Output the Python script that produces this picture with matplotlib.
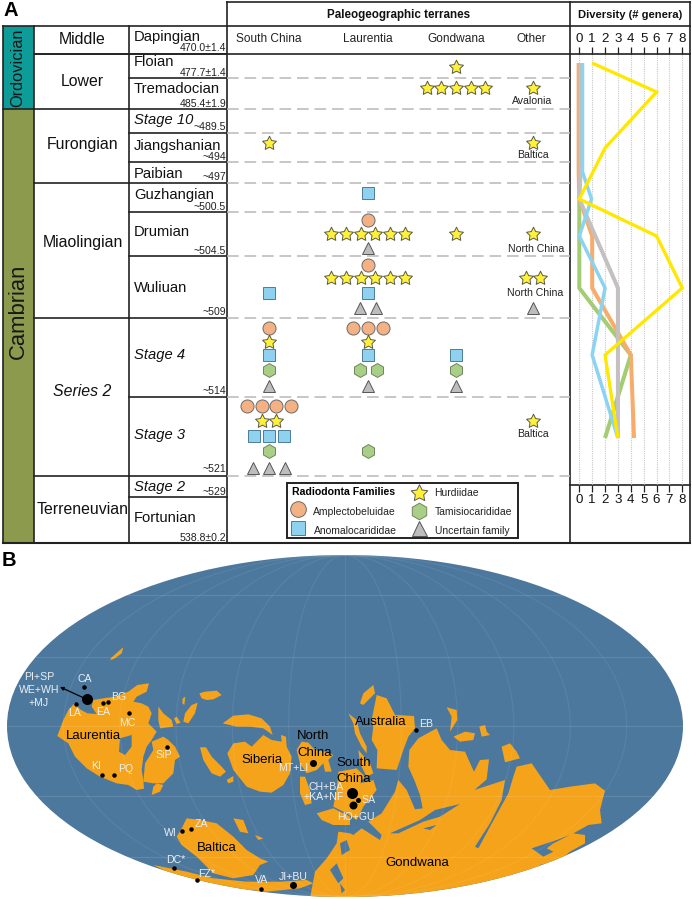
import numpy as np
import matplotlib
matplotlib.use("Agg")
import matplotlib.pyplot as plt
from matplotlib.patches import Ellipse, Polygon, Rectangle
from matplotlib.path import Path

plt.rcParams['font.family'] = ['Liberation Sans', 'DejaVu Sans']

# ---------- DATA ----------
periods = [("Ordovician", 26, 109, "#0E9C98", 11.8), ("Cambrian", 109, 543, "#8C9A4E", 15.8)]
series = [("Middle", 54, 40, False), ("Lower", 109, 81, False), ("Furongian", 183, 144, False),
          ("Miaolingian", 318, 243, False), ("Series 2", 475.5, 391.5, True), ("Terreneuvian", 543, 510, False)]
stages = ["Dapingian", "Floian", "Tremadocian", "Stage 10", "Jiangshanian", "Paibian", "Guzhangian",
          "Drumian", "Wuliuan", "Stage 4", "Stage 3", "Stage 2", "Fortunian"]
italic_stages = {"Stage 10", "Stage 4", "Stage 3", "Stage 2"}
stage_ages = ["470.0±1.4", "477.7±1.4", "485.4±1.9", "~489.5", "~494", "~497", "~500.5",
              "~504.5", "~509", "~514", "~521", "~529", "538.8±0.2"]
stage_bottom = [54, 78, 109, 133, 162, 183, 212, 256, 318, 397, 475.5, 497, 543]
stage_text_y = [37, 62.5, 89, 120, 146, 174, 194.5, 232, 288, 355, 435.5, 486.5, 518]
age_text_y = [48, 73, 104, 126.5, 157, 176.5, 207, 251, 312, 391.5, 469, 492, 538]
dashed_y = [78, 109, 133, 162, 183, 212, 256, 318, 397, 475.5]

terranes = ["South China", "Laurentia", "Gondwana", "Other"]
terrane_x = {"South China": 269, "Laurentia": 368, "Gondwana": 456, "Other": 533}
families = ["Amplectobeluidae", "Anomalocarididae", "Hurdiidae", "Tamisiocarididae", "Uncertain family"]

# (stage, terrane, family, count)
occurrences = [
    ("Floian", "Gondwana", "Hurdiidae", 1),
    ("Tremadocian", "Gondwana", "Hurdiidae", 5),
    ("Tremadocian", "Other", "Hurdiidae", 1),
    ("Jiangshanian", "South China", "Hurdiidae", 1),
    ("Jiangshanian", "Other", "Hurdiidae", 1),
    ("Guzhangian", "Laurentia", "Anomalocarididae", 1),
    ("Drumian", "Laurentia", "Amplectobeluidae", 1),
    ("Drumian", "Laurentia", "Hurdiidae", 6),
    ("Drumian", "Laurentia", "Uncertain family", 1),
    ("Drumian", "Gondwana", "Hurdiidae", 1),
    ("Drumian", "Other", "Hurdiidae", 1),
    ("Wuliuan", "South China", "Anomalocarididae", 1),
    ("Wuliuan", "Laurentia", "Amplectobeluidae", 1),
    ("Wuliuan", "Laurentia", "Hurdiidae", 6),
    ("Wuliuan", "Laurentia", "Anomalocarididae", 1),
    ("Wuliuan", "Laurentia", "Uncertain family", 2),
    ("Wuliuan", "Other", "Hurdiidae", 2),
    ("Wuliuan", "Other", "Uncertain family", 1),
    ("Stage 4", "South China", "Amplectobeluidae", 1),
    ("Stage 4", "South China", "Hurdiidae", 1),
    ("Stage 4", "South China", "Anomalocarididae", 1),
    ("Stage 4", "South China", "Tamisiocarididae", 1),
    ("Stage 4", "South China", "Uncertain family", 1),
    ("Stage 4", "Laurentia", "Amplectobeluidae", 3),
    ("Stage 4", "Laurentia", "Hurdiidae", 1),
    ("Stage 4", "Laurentia", "Anomalocarididae", 1),
    ("Stage 4", "Laurentia", "Tamisiocarididae", 2),
    ("Stage 4", "Laurentia", "Uncertain family", 1),
    ("Stage 4", "Gondwana", "Anomalocarididae", 1),
    ("Stage 4", "Gondwana", "Tamisiocarididae", 1),
    ("Stage 4", "Gondwana", "Uncertain family", 1),
    ("Stage 3", "South China", "Amplectobeluidae", 4),
    ("Stage 3", "South China", "Hurdiidae", 2),
    ("Stage 3", "South China", "Anomalocarididae", 3),
    ("Stage 3", "South China", "Tamisiocarididae", 1),
    ("Stage 3", "South China", "Uncertain family", 3),
    ("Stage 3", "Laurentia", "Tamisiocarididae", 1),
    ("Stage 3", "Other", "Hurdiidae", 1),
]
other_labels = [("Avalonia", 532.5, 101), ("Baltica", 532.5, 155.5), ("North China", 536, 249),
                ("North China", 535, 293), ("Baltica", 532.5, 434)]

# Diversity: (stage, genera) at the nodes of each family's line
div_amplecto = [("Floian", -0.05), ("Paibian", -0.05), ("Guzhangian", 0), ("Drumian", 1), ("Wuliuan", 1), ("Stage 4", 4), ("Stage 3", 4.25)]
div_anomalo = [("Floian", 0.25), ("Paibian", 0.25), ("Guzhangian", 0.95), ("Drumian", 0), ("Wuliuan", 2), ("Stage 4", 1), ("Stage 3", 3)]
div_hurdi = [("Floian", 1), ("Tremadocian", 6), ("Jiangshanian", 2), ("Guzhangian", 0), ("Drumian", 6), ("Wuliuan", 8), ("Stage 4", 2), ("Stage 3", 3)]
div_tamisio = [("Guzhangian", 0), ("Drumian", 0), ("Wuliuan", 0), ("Stage 4", 4), ("Stage 3", 2)]
div_uncertain = [("Floian", 0.1), ("Paibian", 0.1), ("Guzhangian", 0), ("Wuliuan", 3), ("Stage 4", 3), ("Stage 3", 3)]
diversity_ticks = list(range(9))

# Map land outlines read from the left (L) and right (R) half of the map
land_left = [
    [(172,558),(190,510),(205,480),(225,458),(240,478),(262,490),(290,492),(275,470),(280,450),(310,445),(345,440),(385,425),(412,405),(447,400),(440,425),(410,440),(400,455),(425,460),(445,470),(455,490),(445,520),(470,545),(455,570),(440,590),(430,620),(425,660),(430,690),(432,716),(410,720),(385,705),(350,700),(300,680),(260,655),(225,620),(205,580)],
    [(435,640),(460,600),(455,575),(490,560),(505,570),(525,590),(540,620),(525,630),(520,670),(490,700),(460,700),(430,695)],
    [(470,700),(490,705),(480,725),(455,735),(460,710)],
    [(475,470),(490,490),(515,510),(520,530),(480,535),(475,510)],
    [(522,505),(530,500),(542,518),(530,522)],
    [(332,325),(360,300),(370,292),(365,310),(345,325),(332,330)],
    [(550,515),(555,490),(575,465),(593,458),(585,490),(565,520)],
    [(598,430),(615,425),(650,422),(665,435),(640,448),(620,450),(605,445)],
    [(548,445),(556,440),(553,465),(547,460)],
    [(600,592),(618,592),(635,620),(665,650),(678,665),(660,680),(635,670),(610,630)],
    [(668,520),(700,497),(745,493),(785,505),(810,530),(818,555),(790,535),(750,530),(710,530)],
    [(682,610),(700,580),(735,575),(755,590),(790,555),(815,570),(845,575),(843,555),(858,560),(860,590),(875,620),(870,670),(850,705),(815,728),(780,725),(740,710),(700,660)],
    [(680,690),(700,678),(700,695),(685,700)],
    [(890,600),(905,575),(925,578),(945,600),(975,605),(1000,615),(985,630),(995,665),(975,665),(970,640),(950,660),(920,670),(900,640)],
    [(900,680),(915,680),(930,720),(935,760),(915,765),(900,730)],
    [(950,790),(1000,775),(1050,800),(1050,825),(1000,825),(965,810)],
    [(530,860),(545,835),(560,805),(600,810),(650,820),(700,860),(740,900),(780,925),(805,935),(780,945),(760,975),(700,985),(640,970),(590,920),(545,885)],
    [(700,805),(730,810),(745,850),(720,845)],
    [(765,855),(790,865),(775,870)],
    [(460,945),(560,965),(640,985),(740,995),(840,995),(920,990),(940,1000),(900,1015),(800,1025),(700,1015),(600,995),(500,965)],
]
land_right = [
    [(-90,1045),(-75,965),(-40,925),(-10,880),(-5,845),(30,850),(40,855),(65,835),(120,870),(125,855),(85,815),(125,790),(165,725),(175,690),(200,720),(225,778),(248,775),(240,735),(225,695),(205,650),(208,600),(235,565),(290,535),(305,570),(330,600),(375,605),(395,650),(402,665),(420,630),(447,628),(440,688),(403,720),(495,690),(485,750),(450,820),(405,890),(415,895),(450,830),(505,730),(520,680),(530,650),(575,640),(630,720),(690,710),(765,700),(795,722),(780,780),(785,820),(745,825),(700,850),(735,855),(735,880),(690,905),(660,930),(600,945),(560,1000),(350,1045)],
    [(110,435),(140,445),(165,495),(222,498),(225,535),(205,560),(190,600),(170,660),(110,655),(112,600),(95,570),(100,530),(95,510)],
    [(60,460),(70,430),(100,405),(105,430),(85,450),(70,465)],
    [(25,490),(50,510),(60,550),(80,590),(80,610),(65,590),(45,550),(40,520)],
    [(55,600),(90,640),(100,670),(80,680),(60,640)],
    [(-5,665),(50,655),(75,680),(60,700),(100,690),(110,720),(70,770),(50,810),(20,790),(-20,770),(-10,720)],
    [(320,472),(350,480),(352,510),(330,545),(335,500)],
    [(340,560),(375,545),(405,550),(400,570),(360,575)],
    [(418,530),(435,525),(440,545),(450,555),(425,560)],
    [(485,590),(510,580),(530,605),(540,625),(495,637)],
]
water_left = [
    [(360,565),(395,555),(395,590),(375,615),(357,605)],
]
water_right = [
    [(150,850),(240,810),(285,780),(360,762),(300,800),(250,815),(175,850)],
    [(250,835),(290,825),(270,840)],
    [(-30,960),(-10,940),(10,985),(-5,1000)],
    [(0,1000),(15,1020),(5,1030)],
    [(575,895),(650,870),(690,855),(640,880),(620,895),(640,905),(610,920)],
    [(0,880),(20,870),(30,900),(5,915)],
]

site_names = ["CA", "WE", "LA", "EA", "BG", "MC", "SiP", "KI", "PQ", "MT", "WI", "ZA", "DC", "FZ", "VA", "JI", "SC", "HO", "SA", "EB"]
site_x = [84.3, 86.7, 76.3, 103.3, 108.3, 128.7, 166.7, 101.7, 113.7, 312.7, 182.3, 190.7, 174.3, 197, 260.7, 293.3, 351.7, 352.7, 358.3, 416.3]
site_y = [686.7, 699, 704, 703.3, 702, 713, 746.7, 775, 775, 762.7, 831, 829, 868, 879.7, 889, 885, 792.7, 805, 800, 730]
site_size = [4.5, 11, 4.5, 4.5, 4.5, 4.5, 4.5, 4.5, 4.5, 7, 4.5, 4.5, 4.5, 4.5, 4.5, 7, 11, 8, 5, 4.5]

white_labels = [("PI+SP",39,676.7),("WE+WH",39,690),("+MJ",39,703),("CA",84.5,679),("LA",75,713),("EA",103.5,712),
                ("BG",119,697),("MC",127.5,723),("SiP",164,755),("KI",96.5,766),("PQ",125.5,769),("MT+LI",293,768),
                ("CH+BA",326,787),("+KA+NF",324,797),("SA",369,800),("HO+GU",356,817),("EB",426,724),("ZA",201,824),
                ("WI",170.5,833),("DC*",176,860),("FZ*",207,874),("VA",262,880),("JI+BU",293,877)]
black_labels = [("Laurentia",93,736),("Siberia",261.5,760),("North",313,736),("China",314.7,752.7),("South",354,762.7),
                ("China",354,779),("Baltica",217,847.7),("Australia",381,722),("Gondwana",417.7,862.7)]

# ---------- STYLE / LAYOUT ----------
W, H = 692, 899
INK = "#222222"
fat_star = Path.unit_regular_star(5, innerCircle=0.5)
style = {
    "Amplectobeluidae": dict(marker="o", mfc="#F4B183", mec="#6b6b6b", ms=9.4, sp=14.8, line="#F7AC6C"),
    "Anomalocarididae": dict(marker="s", mfc="#8FD2F0", mec="#4C7C98", ms=8.8, sp=14.6, line="#8AD3F2"),
    "Hurdiidae": dict(marker=fat_star, mfc="#FFF13A", mec="#5a5a4a", ms=10.5, sp=14.7, line="#FFE800"),
    "Tamisiocarididae": dict(marker="h", mfc="#A9CF86", mec="#6E8560", ms=10, sp=17, line="#A3CC73"),
    "Uncertain family": dict(marker="^", mfc="#BDBDBD", mec="#555555", ms=9, sp=16, line="#C4C0C0"),
}
row_y = {
    "Floian": {"Hurdiidae": 67},
    "Tremadocian": {"Hurdiidae": 88},
    "Jiangshanian": {"Hurdiidae": 143},
    "Guzhangian": {"Anomalocarididae": 193},
    "Drumian": {"Amplectobeluidae": 220, "Hurdiidae": 234, "Uncertain family": 248},
    "Wuliuan": {"Amplectobeluidae": 265, "Hurdiidae": 278, "Anomalocarididae": 293, "Uncertain family": 308},
    "Stage 4": {"Amplectobeluidae": 328, "Hurdiidae": 341.5, "Anomalocarididae": 355, "Tamisiocarididae": 370, "Uncertain family": 386},
    "Stage 3": {"Amplectobeluidae": 406, "Hurdiidae": 421, "Anomalocarididae": 436, "Tamisiocarididae": 451, "Uncertain family": 468},
}
div_row = dict(zip(stages, [np.nan, 63, 92, 120, 148, 172, 199, 236, 288, 355, 438, np.nan, np.nan]))

fig = plt.figure(figsize=(W / 100, H / 100), dpi=100, facecolor="white")
ax = fig.add_axes([0, 0, 1, 1])
ax.set_xlim(0, W)
ax.set_ylim(H, 0)
ax.axis("off")

# ---------- TABLE ----------
def hl(y, x0, x1, lw=1.2, **k):
    ax.plot([x0, x1], [y, y], color=k.pop("color", INK), lw=lw, solid_capstyle="projecting", **k)

def vl(x, y0, y1, lw=1.2):
    ax.plot([x, x], [y0, y1], color=INK, lw=lw, solid_capstyle="projecting")

for name, y0, y1, col, fs in periods:
    ax.add_patch(Rectangle((2.5, y0), 31.5, y1 - y0, fc=col, ec="none"))
    ax.text(18, 311.5 if name == "Cambrian" else (y0 + y1) / 2 + 0.5, name, rotation=90, ha="center", va="center", fontsize=fs, color="#161616")

hl(26, 2.5, 689.5)
hl(2, 227, 689.5)
hl(54, 34, 689.5)
hl(109, 2.5, 34)
hl(543, 2.5, 689.5, lw=1.5)
hl(485, 570, 689.5)
for x, y0, y1 in [(2.5, 26, 543), (34, 26, 543), (129, 26, 543), (227, 2, 543), (570, 2, 543), (689.5, 2, 543)]:
    vl(x, y0, y1)
for (_, yb, _, _) in series:
    hl(yb, 34, 129)
for yb in stage_bottom:
    hl(yb, 129, 227)
for (name, _, yt, ital) in series:
    ax.text(82.5, yt, name, ha="center", va="center", fontsize=11.4, style="italic" if ital else "normal", color="#111")
for name, age, yt, ya in zip(stages, stage_ages, stage_text_y, age_text_y):
    ax.text(134, yt, name, ha="left", va="center", fontsize=10.6, style="italic" if name in italic_stages else "normal", color="#111")
    ax.text(226, ya, age, ha="right", va="center", fontsize=7.6, color="#222")
ax.hlines(dashed_y, 227, 570, color="#BDBDBD", lw=1.2, linestyles=(0, (7, 3.5)))

ax.text(399, 15, "Paleogeographic terranes", ha="center", va="center", fontsize=8.4, fontweight="bold", color="#111")
ax.text(630, 15, "Diversity (# genera)", ha="center", va="center", fontsize=8.1, fontweight="bold", color="#111")
for t in terranes:
    ax.text(terrane_x[t] - (1.5 if t == "Other" else 0), 39, t, ha="center", va="center", fontsize=8.6, color="#222")
ax.text(3, 11, "A", ha="left", va="center", fontsize=14.5, fontweight="bold", color="k")
ax.text(2, 560, "B", ha="left", va="center", fontsize=14.5, fontweight="bold", color="k")

# ---------- MARKERS ----------
for stage, terrane, family, n in occurrences:
    st = style[family]
    x = terrane_x[terrane] + st["sp"] * (np.arange(n) - (n - 1) / 2)
    ax.plot(x, [row_y[stage][family]] * n, ls="none", marker=st["marker"], mfc=st["mfc"], mec=st["mec"], ms=st["ms"], mew=0.7)
for name, x, y in other_labels:
    ax.text(x, y, name, ha="center", va="center", fontsize=7.6, color="#222")

# legend
ax.add_patch(Rectangle((287, 483), 231, 55, fc="white", ec=INK, lw=1.4, zorder=3))
ax.text(292, 492, "Radiodonta Families", fontsize=7.6, fontweight="bold", va="center", ha="left", zorder=4)
leg = [("Amplectobeluidae", 298, 509, 313, 512), ("Anomalocarididae", 298, 528, 314, 531),
       ("Hurdiidae", 419, 492.5, 434.5, 492.5), ("Tamisiocarididae", 419, 511, 434.5, 512), ("Uncertain family", 419, 528, 435, 531)]
for fam, mx, my, tx, ty in leg:
    st = style[fam]
    ax.plot([mx], [my], marker=st["marker"], mfc=st["mfc"], mec=st["mec"], ms=st["ms"] * 1.2, mew=0.7, ls="none", zorder=4)
    ax.text(tx, ty, fam, fontsize=7.5, va="center", ha="left", color="#222", zorder=4)

# ---------- MAP ----------
cx, cy, rx, ry = 345, 726, 338, 171
OCEAN, LAND = "#4D789E", "#F5A31A"
globe = Ellipse((cx, cy), 2 * rx, 2 * ry, fc=OCEAN, ec="none")
ax.add_patch(globe)

def from_left(pts):
    return [(x / 3, 550 + y / 3) for x, y in pts]

def from_right(pts):
    return [(340 + x / 3, 550 + y / 3) for x, y in pts]

for polys, conv, col, z in [(land_left, from_left, LAND, 2), (land_right, from_right, LAND, 2),
                            (water_left, from_left, OCEAN, 2.1), (water_right, from_right, OCEAN, 2.1)]:
    for poly in polys:
        p = Polygon(conv(poly), closed=True, fc=col, ec="none", zorder=z)
        ax.add_patch(p)
        p.set_clip_path(globe)

# graticule
ys = np.linspace(cy - ry, cy + ry, 200)
for k in range(-5, 6):
    ax.plot(cx + k * rx / 6 * np.sqrt(np.clip(1 - ((ys - cy) / ry) ** 2, 0, 1)), ys, color="white", alpha=0.07, lw=0.8, zorder=2.2)
for off in [-131, -69.5, 0, 69.5, 131]:
    half = rx * np.sqrt(1 - (off / ry) ** 2)
    ax.plot([cx - half, cx + half], [cy + off, cy + off], color="white", alpha=0.11, lw=0.8, zorder=2.2)

# sites, labels
for x, y, s in zip(site_x, site_y, site_size):
    ax.plot([x], [y], "o", color="black", ms=s * 0.72, mew=0, zorder=4)
ax.annotate("", xy=(60, 687), xytext=(84, 698),
            arrowprops=dict(arrowstyle="-|>", color="black", lw=0.9, mutation_scale=5, shrinkA=0, shrinkB=0), zorder=4)
for t, x, y in white_labels:
    ax.text(x, y, t, color="#E9EFF3", fontsize=7.6, ha="center", va="center", zorder=5)
for t, x, y in black_labels:
    ax.text(x, y, t, color="black", fontsize=9.5, ha="center", va="center", zorder=5)

# ---------- DIVERSITY PANEL ----------
x0px, x8px = 579.3, 682.3
unit = (x8px - x0px) / 8
dax = fig.add_axes([570 / W, 1 - 485 / H, 120 / W, 431 / H], zorder=2)
dax.patch.set_alpha(0)
dax.set_xlim((570 - x0px) / unit, (690 - x0px) / unit)
dax.set_ylim(485, 54)
for s in dax.spines.values():
    s.set_visible(False)
dax.set_yticks([])
dax.set_xticks(diversity_ticks)
dax.set_xticklabels([str(v) for v in diversity_ticks])
dax.tick_params(axis="x", top=True, bottom=True, labeltop=True, labelbottom=True, length=5.2, width=0.9,
                color=INK, labelsize=9.6, labelcolor="#111", pad=1.5, direction="out")
dax.grid(axis="x", color="#C8C8C8", lw=0.8, ls=(0, (1, 1)))
dax.set_axisbelow(True)
series_lines = [(div_tamisio, "Tamisiocarididae", 2.9), (div_amplecto, "Amplectobeluidae", 2.9), (div_uncertain, "Uncertain family", 2.9),
                (div_anomalo, "Anomalocarididae", 2.5), (div_hurdi, "Hurdiidae", 2.4)]
for nodes, fam, lw in series_lines:
    dax.plot([v for _, v in nodes], [div_row[s] for s, _ in nodes], color=style[fam]["line"], lw=lw,
             solid_joinstyle="miter", solid_capstyle="butt")

fig.savefig("out.png", dpi=100, facecolor="white")
